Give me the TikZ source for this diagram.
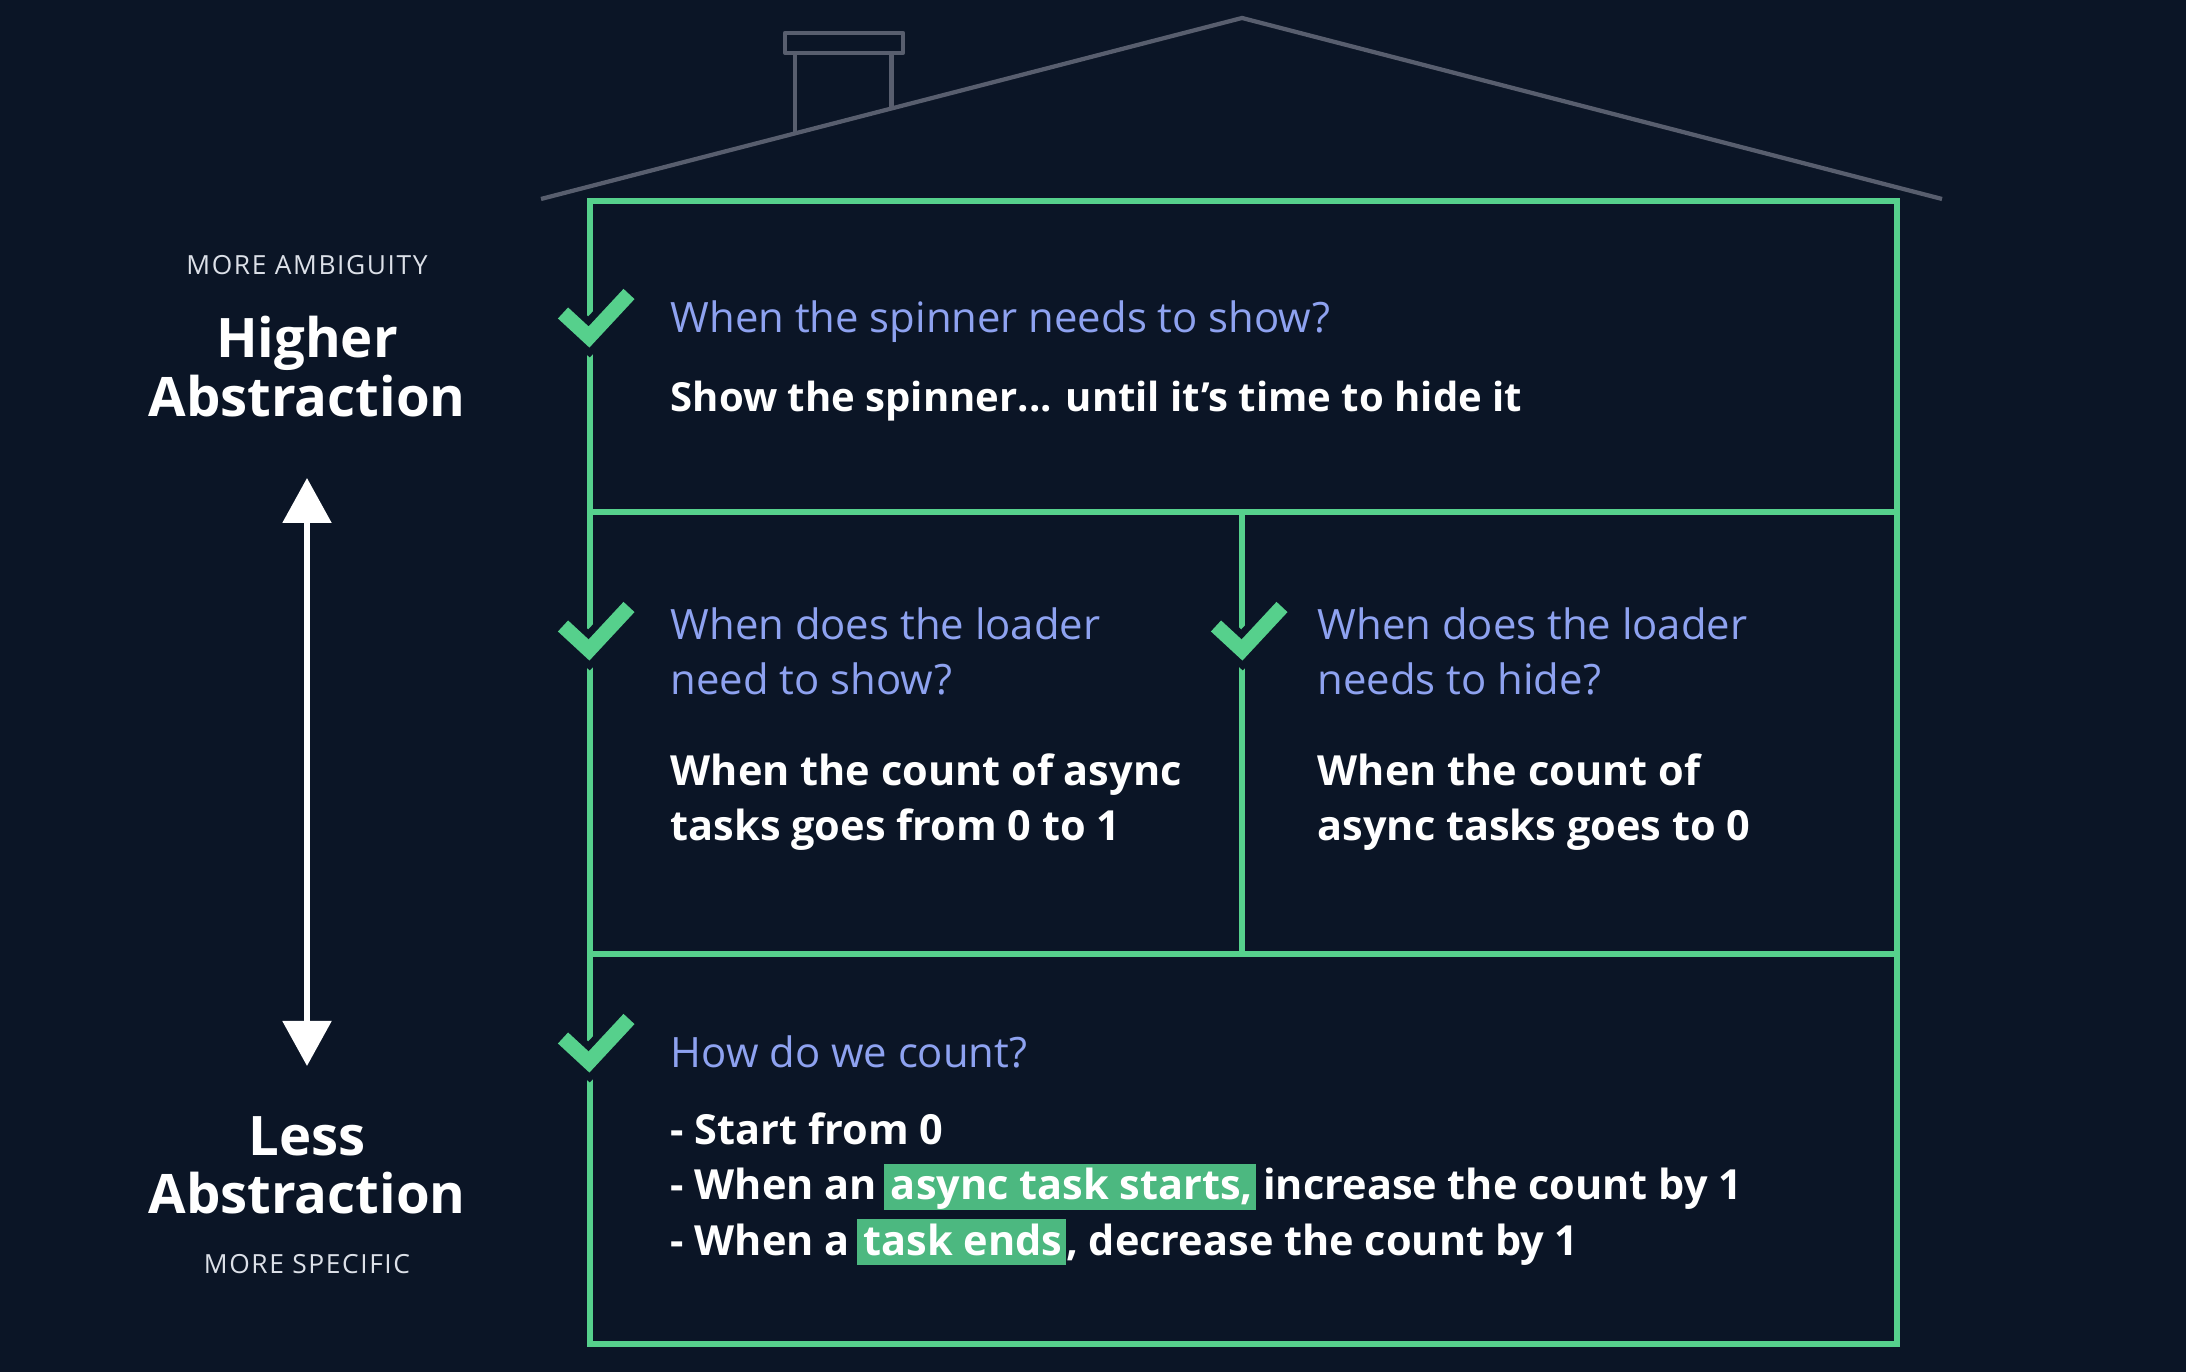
\documentclass[tikz,border=0pt]{standalone}
\usepackage{fontspec}
\setmainfont[Ligatures=NoCommon]{Open Sans}
\newfontfamily\hintfont[LetterSpace=6]{Open Sans}
\usepackage{xcolor}
\usetikzlibrary{arrows.meta, positioning, calc}
\definecolor{bgNavy}{RGB}{11,21,38}
\definecolor{frameGreen}{RGB}{86,208,140}
\definecolor{hlGreen}{RGB}{76,184,128}
\definecolor{roofGray}{RGB}{88,94,110}
\definecolor{askBlue}{RGB}{142,162,240}
\definecolor{hintGray}{RGB}{220,224,232}
\newcommand{\hlbox}[1]{{\setlength{\fboxsep}{0pt}\colorbox{hlGreen}{\hspace{2pt}\rule[-2.8pt]{0pt}{13.1pt}#1\hspace{1pt}}}}

\begin{document}
\begin{tikzpicture}[
    wall/.style={draw=frameGreen, line width=1.6pt},
    roof/.style={draw=roofGray, line width=1.2pt, line join=round},
    question/.style={anchor=west, align=left, inner sep=0pt, text=askBlue, font=\fontsize{11.9}{15.6}\selectfont},
    answer/.style={anchor=west, align=left, inner sep=0pt, text=white, font=\bfseries\fontsize{11.8}{15.6}\selectfont},
    level/.style={align=center, inner sep=0pt, text=white, font=\bfseries\fontsize{15.5}{16.6}\selectfont},
    hint/.style={inner sep=0pt, text=hintGray, font=\hintfont\fontsize{7.5}{9}\selectfont},
    updown/.style={{Triangle[width=0.48cm,length=0.45cm]}-{Triangle[width=0.48cm,length=0.45cm]}, white, line width=1.6pt},
    tick/.pic={
        \draw[bgNavy, line width=0.29cm] (-0.26,0.24) -- (0,0) -- (0.40,0.43);
        \draw[frameGreen, line width=0.15cm] (-0.26,0.24) -- (0,0) -- (0.40,0.43);
    }
]
    % Canvas
    \fill[bgNavy] (0,0) rectangle (21.86,13.72);
    \useasboundingbox (0,0) rectangle (21.86,13.72);

    % Roof and chimney
    \coordinate (roofL) at (5.41,11.73);
    \coordinate (apex) at (12.42,13.54);
    \coordinate (roofR) at (19.42,11.73);
    \node[roof, minimum width=1.18cm, minimum height=0.2cm, inner sep=0pt] (cap) at (8.44,13.29) {};
    \coordinate (stackL) at ($(roofL)!0.362!(apex)$);
    \coordinate (stackR) at ($(roofL)!0.5!(apex)$);
    \draw[roof] (stackL) -- (stackL |- cap.south);
    \draw[roof] (stackR) -- (stackR |- cap.south);
    \draw[roof] (roofL) -- (apex) -- (roofR);

    % House frame
    \coordinate (wallSW) at (5.90,0.28);
    \coordinate (wallNE) at (18.97,11.71);
    \draw[wall] (wallSW) rectangle (wallNE);
    \draw[wall] (5.90,8.60) coordinate (floorTop) -- (floorTop -| wallNE);
    \draw[wall] (5.90,4.18) coordinate (floorLow) -- (floorLow -| wallNE);
    \draw[wall] (12.42,8.60) coordinate (midTop) -- (midTop |- floorLow);

    % Checkmarks
    \pic at (5.89,10.35) {tick};
    \pic at (5.89,7.22) {tick};
    \pic at (12.42,7.22) {tick};
    \pic at (5.89,3.10) {tick};

    % Top room
    \node[question] (q1) at (6.70,10.50) {When the spinner needs to show?};
    \node[answer, font=\bfseries\fontsize{11.4}{15.6}\selectfont] (a1) at (6.70,9.71) {Show the spinner... until it’s time to hide it};

    % Middle rooms
    \node[question] (q2) at (6.70,7.205) {When does the loader\\need to show?};
    \node[answer] (a2) at (6.70,5.70) {When the count of async\\tasks goes from 0 to 1};
    \node[question] (q3) at (13.17,7.205) {When does the loader\\needs to hide?};
    \node[answer] (a3) at (13.17,5.70) {When the count of\\async tasks goes to 0};

    % Ground floor
    \node[question] (q4) at (6.70,3.20) {How do we count?};
    \node[answer, font=\bfseries\fontsize{11.8}{15.8}\selectfont] (a4) at (6.70,1.83) {- Start from 0\\- When an\,\hlbox{async task starts,}\,increase the count by 1\\- When a\,\hlbox{task ends}, decrease the count by 1};

    % Abstraction scale
    \node[hint] (ambig) at (3.07,11.07) {MORE AMBIGUITY};
    \node[level] (high) at (3.07,10.055) {Higher\\Abstraction};
    \node[level] (low) at (3.07,2.065) {Less\\Abstraction};
    \node[hint] (specific) at (3.07,1.08) {MORE SPECIFIC};
    \coordinate (up) at (3.07,8.94);
    \coordinate (down) at (3.07,3.06);
    \draw[updown] (up) -- (down);
\end{tikzpicture}
\end{document}
